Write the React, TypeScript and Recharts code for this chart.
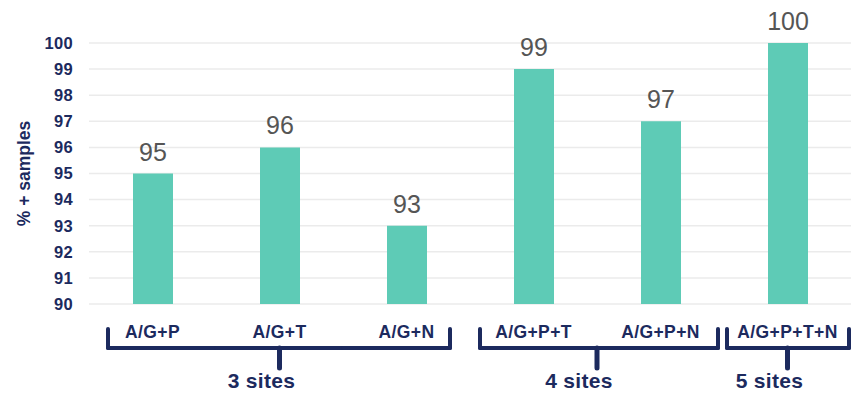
import { BarChart, Bar, XAxis, YAxis, CartesianGrid, LabelList } from 'recharts';

const combos = ['A/G+P', 'A/G+T', 'A/G+N', 'A/G+P+T', 'A/G+P+N', 'A/G+P+T+N'];
const positives = [95, 96, 93, 99, 97, 100];
const siteGroup = [0, 0, 0, 1, 1, 2];
const groupLabels = ['3 sites', '4 sites', '5 sites'];
const yTicks = [90, 91, 92, 93, 94, 95, 96, 97, 98, 99, 100];

const data = combos.map((name, i) => ({ name, value: positives[i], group: siteGroup[i] }));

const W = 860;
const H = 395;
const LEFT = 89;
const RIGHT = 9;
const BAND = (W - LEFT - RIGHT) / combos.length;
const NAVY = '#1c2a5e';
const TEAL = '#5ecbb6';
const FONT = "'Liberation Sans', Arial, sans-serif";
// brace end insets per group (left, right)
const insets = [[19, 20], [10, 6], [3, 2]];

const BraceTick = (props: any) => {
  const { x, y, payload } = props;
  const i = payload.index;
  const g = siteGroup[i];
  const first = siteGroup[i - 1] !== g;
  const last = siteGroup[i + 1] !== g;
  const half = BAND / 2;
  const x0 = first ? x - half + insets[g][0] : x - half;
  const x1 = last ? x + half - insets[g][1] : x + half;
  const barY = y + 44;
  const members = siteGroup.filter((s) => s === g).length;
  const pos = siteGroup.indexOf(g);
  let stemX: number | null = null;
  if (members % 2 === 1 && i === pos + (members - 1) / 2) stemX = x;
  if (members % 2 === 0 && i === pos + members / 2 - 1) stemX = x + half;
  return (
    <g>
      <text x={x} y={y + 34} textAnchor="middle" fill={NAVY} fontSize={17.5} fontWeight={700}
        letterSpacing={0.4} fontFamily={FONT}>
        {payload.value}
      </text>
      <line x1={x0} x2={x1} y1={barY} y2={barY} stroke={NAVY} strokeWidth={4} strokeLinecap="round" />
      {first && <line x1={x0} x2={x0} y1={y + 25} y2={barY} stroke={NAVY} strokeWidth={4} strokeLinecap="round" />}
      {last && <line x1={x1} x2={x1} y1={y + 25} y2={barY} stroke={NAVY} strokeWidth={4} strokeLinecap="round" />}
      {stemX !== null && (
        <g>
          <line x1={stemX} x2={stemX} y1={barY} y2={y + 64} stroke={NAVY} strokeWidth={5} strokeLinecap="round" />
          <text x={stemX - 18} y={y + 84} textAnchor="middle" fill={NAVY} fontSize={21} fontWeight={700}
            letterSpacing={0.3} fontFamily={FONT}>
            {groupLabels[g]}
          </text>
        </g>
      )}
    </g>
  );
};

export default function App() {
  return (
    <div style={{ position: 'absolute', left: 0, top: 0, width: W, height: H, background: '#fff' }}>
      <BarChart width={W} height={H} data={data} margin={{ top: 43, right: RIGHT, bottom: 0, left: 0 }}
        barCategoryGap={0}>
        <CartesianGrid horizontal vertical={false} stroke="#ebebeb" strokeWidth={1.5} />
        <XAxis dataKey="name" height={91} axisLine={false} tickLine={false} tickSize={0} tickMargin={0}
          interval={0} tick={<BraceTick />} />
        <YAxis width={LEFT} domain={[90, 100]} ticks={yTicks} interval={0} axisLine={false} tickLine={false}
          tickSize={0} tickMargin={16}
          tick={{ fill: NAVY, fontSize: 16.5, fontWeight: 700, fontFamily: FONT, letterSpacing: 0.3 }}
          label={{ value: '% + samples', angle: -90, position: 'insideLeft', offset: 24, fill: NAVY, fontSize: 17.5,
            fontWeight: 700, fontFamily: FONT, style: { textAnchor: 'middle' } }} />
        <Bar dataKey="value" fill={TEAL} barSize={40} isAnimationActive={false}>
          <LabelList dataKey="value" position="top" offset={13} fill="#555" fontSize={25} fontFamily={FONT} />
        </Bar>
      </BarChart>
    </div>
  );
}
